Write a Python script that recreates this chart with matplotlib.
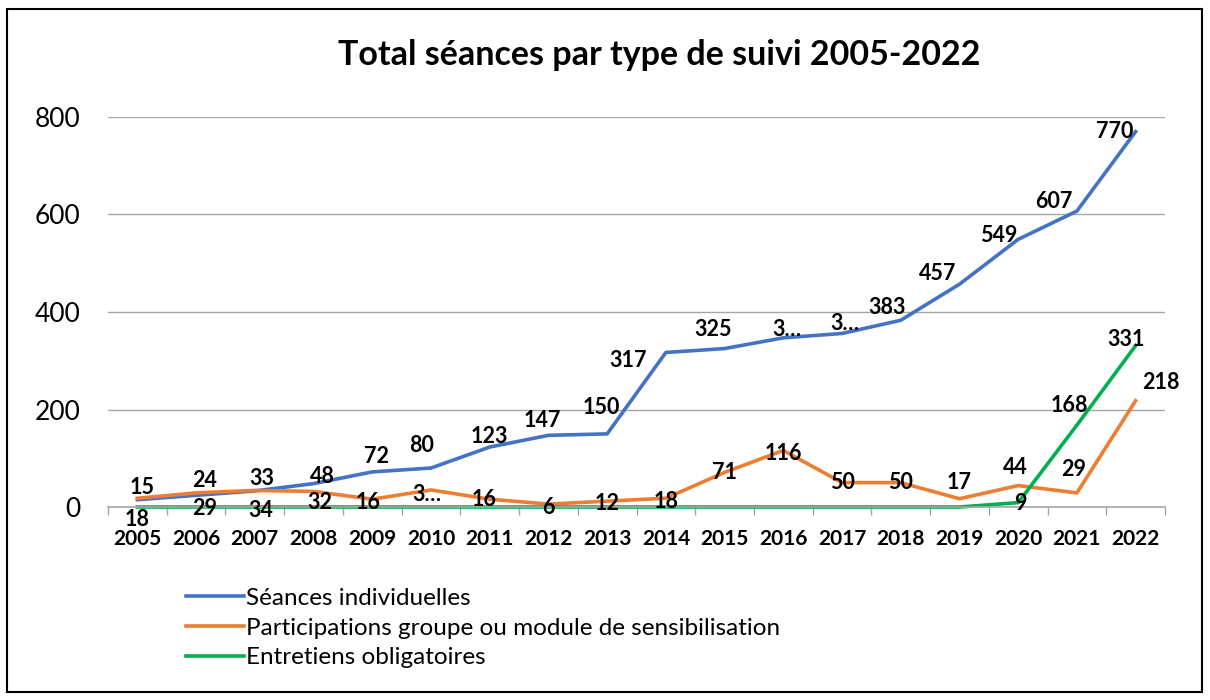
import matplotlib
matplotlib.use("Agg")
import matplotlib.pyplot as plt
from matplotlib.patches import Rectangle

plt.rcParams['font.family'] = ['Lato', 'DejaVu Sans']

years = [str(y) for y in range(2005, 2023)]
individuelles = [15, 24, 33, 48, 72, 80, 123, 147, 150, 317, 325, 347, 356, 383, 457, 549, 607, 770]
groupe = [18, 29, 34, 32, 16, 35, 16, 6, 12, 18, 71, 116, 50, 50, 17, 44, 29, 218]
obligatoires = [0, 0, 0, 0, 0, 0, 0, 0, 0, 0, 0, 0, 0, 0, 0, 9, 168, 331]

# labels as displayed on the chart (some are truncated in the original)
lab_ind = ["15", "24", "33", "48", "72", "80", "123", "147", "150", "317", "325", "3…", "3…", "383", "457", "549", "607", "770"]
lab_grp = ["18", "29", "34", "32", "16", "3…", "16", "6", "12", "18", "71", "116", "50", "50", "17", "44", "29", "218"]
lab_obl = ["", "", "", "", "", "", "", "", "", "", "", "", "", "", "", "9", "168", "331"]

names = ["Séances individuelles",
         "Participations groupe ou module de sensibilisation",
         "Entretiens obligatoires"]
colors = ["#4472C4", "#ED7D31", "#00B050"]

# label offsets in pixels (dx, dy downwards), converted to points below
off_ind = [(5, -12), (8, -15), (7, -12), (9, -7), (4, -15), (-9, -23), (0, -11), (-6, -15), (-6, -26),
           (-38, 8), (-12, -19), (4, -8), (3, -10), (-14, -13), (-22, -11), (-19, -4), (-23, -10), (-21, 0)]
off_grp = [(0, 21), (8, 16), (6, 20), (6, 11), (-4, 3), (-4, 5), (-6, 0), (0, 3), (0, 2),
           (0, 3), (0, 0), (0, 3), (0, 0), (0, 0), (0, -16), (-3, -18), (-3, -23), (25, -18)]
off_obl = [(0, 0)] * 15 + [(2, 1), (-8, -20), (-10, -6)]

fig = plt.figure(figsize=(12.1, 7.0), dpi=100)
ax = fig.add_axes([0.0893, 0.2757, 0.8735, 0.5572])

x = list(range(len(years)))
series = [(individuelles, lab_ind, off_ind), (groupe, lab_grp, off_grp), (obligatoires, lab_obl, off_obl)]
for (vals, labs, offs), name, c in zip(series, names, colors):
    ax.plot(x, vals, color=c, lw=2.6, label=name, clip_on=False)
for (vals, labs, offs), name, c in zip(series, names, colors):
    for xi, v, lab, (dx, dy) in zip(x, vals, labs, offs):
        if lab:
            ax.annotate(lab, (xi, v), xytext=(dx * 0.72, -dy * 0.72), textcoords='offset points',
                        ha='center', va='center', fontsize=15.5, fontweight='bold', color='black')

ax.set_xlim(-0.5, len(years) - 0.5)
ax.set_ylim(0, 800)
ax.set_yticks([0, 200, 400, 600, 800])
ax.set_xticks(x)
ax.set_xticklabels(years, fontsize=15, fontweight='bold')
ax.set_xticks([i - 0.5 for i in range(len(years) + 1)], minor=True)
ax.tick_params(axis='x', which='major', length=0, pad=16)
ax.tick_params(axis='x', which='minor', length=6, color='#A6A6A6', width=1)
ax.tick_params(axis='y', length=0, labelsize=19, pad=20)
ax.grid(axis='y', color='#A6A6A6', lw=1)
ax.set_axisbelow(True)
for s in ['top', 'right', 'left']:
    ax.spines[s].set_visible(False)
ax.spines['bottom'].set_color('#A6A6A6')
ax.spines['bottom'].set_linewidth(1.2)

fig.text(0.545, 0.921, "Total séances par type de suivi 2005-2022", ha='center', va='center',
         fontsize=24.5, fontweight='bold')

fig.legend(loc='upper left', bbox_to_anchor=(0.146, 0.174), frameon=False, fontsize=17.5,
           handlelength=2.35, handletextpad=0.1, labelspacing=0.36, borderaxespad=0)

fig.patches.append(Rectangle((0.006, 0.012), 0.987, 0.975, transform=fig.transFigure,
                             fill=False, edgecolor='black', lw=1.5))

fig.savefig("out.png", dpi=100)
